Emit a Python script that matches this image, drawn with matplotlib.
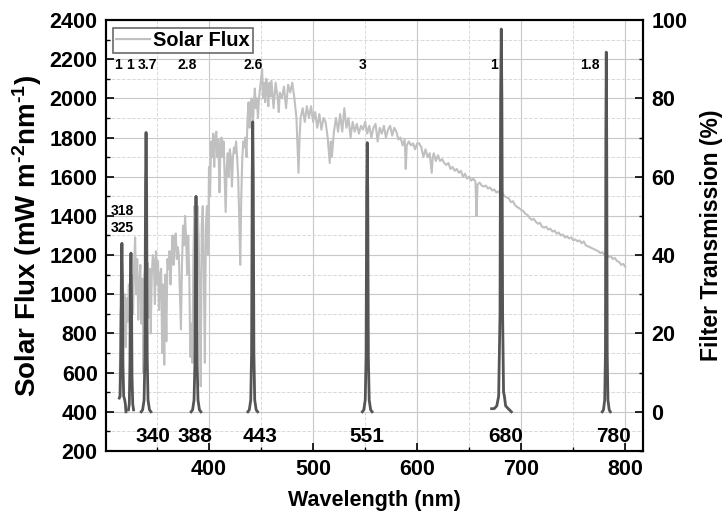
import matplotlib
matplotlib.use("Agg")
import matplotlib.pyplot as plt
from matplotlib.ticker import MultipleLocator

plt.rcParams['font.family'] = ['Liberation Sans', 'DejaVu Sans']
plt.rcParams['font.weight'] = 'bold'
plt.rcParams['mathtext.fontset'] = 'custom'
plt.rcParams['mathtext.rm'] = 'Liberation Sans:bold'
plt.rcParams['mathtext.bf'] = 'Liberation Sans:bold'
plt.rcParams['mathtext.default'] = 'bf'

# solar flux (mW m-2 nm-1)
flux_wl = [314, 315, 316, 317, 318, 319, 320, 321, 322, 323, 324, 325, 326, 327, 328, 329,
           330, 331, 332, 333, 334, 335, 336, 337, 338, 339, 340, 341, 342, 343, 344, 345,
           346, 347, 348, 349, 350, 351, 352, 353, 354, 355, 356, 357, 358, 359, 360, 361,
           362, 363, 364, 365, 366, 367, 368, 369, 370, 371, 372, 373, 374, 375, 376, 377,
           378, 379, 380, 381, 382, 383, 384, 385, 386, 387, 388, 389, 390, 391, 392, 393,
           394, 395, 396, 397, 398, 399, 400, 401, 402, 403, 404, 405, 406, 407, 408, 409,
           410, 411, 412, 413, 414, 415, 416, 417, 418, 419, 420, 421, 422, 423, 424, 425,
           426, 427, 428, 429, 430, 431, 432, 433, 434, 435, 436, 437, 438, 439, 440, 441,
           442, 443, 444, 445, 446, 447, 448, 449, 450, 451, 452, 453, 454, 455, 456, 457,
           458, 459, 460, 462, 464, 466, 467, 468, 470, 472, 474, 476, 478, 480, 482, 484,
           486, 487, 488, 490, 492, 494, 496, 498, 500, 502, 504, 506, 508, 510, 512, 514,
           516, 517, 518, 520, 522, 524, 526, 528, 530, 532, 534, 536, 538, 540, 542, 544,
           546, 548, 550, 552, 554, 556, 558, 560, 562, 564, 566, 568, 570, 572, 574, 576,
           578, 580, 582, 584, 586, 588, 589, 590, 592, 594, 596, 598, 600, 602, 604, 606,
           608, 610, 612, 614, 615, 616, 618, 620, 622, 624, 626, 628, 630, 632, 634, 636,
           638, 640, 642, 644, 646, 648, 650, 652, 654, 656, 657, 658, 660, 662, 664, 666,
           668, 670, 672, 674, 676, 678, 680, 682, 684, 686, 688, 690, 692, 694, 696, 698,
           700, 702, 704, 706, 708, 710, 712, 714, 716, 718, 720, 722, 724, 726, 728, 730,
           732, 734, 736, 738, 740, 742, 744, 746, 748, 750, 752, 754, 756, 758, 760, 762,
           764, 766, 768, 770, 772, 774, 776, 778, 780, 782, 784, 786, 788, 790, 792, 794,
           796, 798, 800]
flux_val = [480, 900, 980, 560, 950, 1000, 730, 980, 860, 1050, 830, 950, 1100, 900, 1150, 1290,
            1000, 1180, 870, 1050, 1150, 850, 1080, 600, 1100, 1150, 1030, 1160, 880, 1130, 800, 1100,
            1200, 1170, 950, 1220, 1050, 1170, 920, 1100, 1130, 700, 1050, 640, 1100, 760, 1180, 1130,
            1220, 1050, 1200, 1300, 1150, 1280, 1310, 1180, 1240, 1200, 1000, 820, 1150, 1350, 1250, 1400,
            1280, 1100, 1300, 1100, 680, 850, 650, 1200, 1450, 1380, 1200, 1450, 1300, 1000, 530, 1350,
            1450, 1100, 650, 1350, 1450, 1200, 1650, 1500, 1780, 1700, 1820, 1650, 1800, 1830, 1700, 1790,
            1520, 1750, 1800, 1700, 1780, 1600, 1420, 1650, 1720, 1600, 1740, 1700, 1550, 1700, 1750, 1720,
            1780, 1700, 1600, 1400, 1150, 1500, 1700, 1780, 1750, 1800, 1700, 1900, 1980, 1850, 1950, 2000,
            1850, 1960, 2050, 1950, 2000, 1900, 2000, 2050, 2100, 2150, 2000, 2080, 1980, 2100, 2050, 1960,
            2080, 2010, 2090, 1950, 2080, 2000, 1930, 2030, 2000, 2060, 1950, 2070, 2030, 2080, 2000, 1900,
            1620, 1800, 1900, 1950, 1880, 1960, 1900, 1960, 1880, 1930, 1850, 1920, 1840, 1900, 1880, 1800,
            1670, 1780, 1700, 1830, 1900, 1830, 1920, 1830, 1950, 1850, 1900, 1800, 1880, 1830, 1870, 1820,
            1860, 1840, 1880, 1820, 1860, 1800, 1850, 1870, 1780, 1850, 1820, 1860, 1800, 1840, 1860, 1810,
            1850, 1830, 1790, 1800, 1760, 1790, 1640, 1760, 1780, 1760, 1770, 1740, 1770, 1770, 1750, 1700,
            1740, 1700, 1720, 1620, 1700, 1720, 1680, 1710, 1680, 1690, 1670, 1660, 1670, 1640, 1650, 1630,
            1640, 1620, 1630, 1600, 1615, 1590, 1600, 1580, 1590, 1575, 1400, 1560, 1570, 1555, 1550, 1555,
            1540, 1545, 1530, 1535, 1520, 1525, 1510, 1515, 1500, 1495, 1490, 1470, 1475, 1455, 1445, 1440,
            1430, 1425, 1410, 1405, 1390, 1380, 1385, 1370, 1360, 1365, 1345, 1340, 1345, 1330, 1335, 1320,
            1325, 1310, 1315, 1300, 1305, 1290, 1295, 1285, 1290, 1275, 1280, 1270, 1275, 1260, 1270, 1250,
            1245, 1240, 1235, 1230, 1225, 1220, 1210, 1215, 1200, 1205, 1190, 1195, 1180, 1185, 1170, 1165,
            1150, 1155, 1140]

# filter transmission (%) curves
f318_wl = [313.8, 314.6, 315.3, 315.8, 316.3, 316.8, 317.3, 318.0, 319.0, 319.6, 320.2]
f318_t = [3.5, 4, 16, 36, 43, 34, 12, 4, 3, 2, 0]
f325_wl = [322.6, 323.4, 324.0, 324.5, 325.0, 325.5, 326.0, 326.7, 327.5]
f325_t = [0.5, 2, 12, 33, 40.5, 30, 9, 2, 0.5]
f340_wl = [334.8, 336.2, 337.6, 338.4, 339.0, 339.5, 340.0, 340.6, 341.4, 342.8, 344.2]
f340_t = [0, 0.5, 3, 14, 58, 71.3, 58, 14, 3, 0.5, 0]
f388_wl = [382.8, 384.2, 385.6, 386.4, 387.0, 387.5, 388.0, 388.6, 389.4, 390.8, 392.2]
f388_t = [0, 0.5, 3, 12, 45, 55, 45, 12, 3, 0.5, 0]
f443_wl = [437.3, 438.7, 440.1, 440.9, 441.5, 442.0, 442.5, 443.1, 443.9, 445.3, 446.7]
f443_t = [0, 0.5, 3, 15, 60, 74, 60, 15, 3, 0.5, 0]
f551_wl = [547.3, 548.7, 550.1, 550.9, 551.5, 552.0, 552.5, 553.1, 553.9, 555.3, 556.7]
f551_t = [0, 0.5, 3, 14, 56, 68.7, 56, 14, 3, 0.5, 0]
f680_wl = [671.5, 674.0, 676.5, 678.3, 679.6, 680.2, 680.8, 681.4, 682.1, 683.0, 683.8, 685.0, 687.5, 690.5]
f680_t = [0.8, 0.8, 1.5, 4, 25, 80, 97.7, 80, 25, 5, 4, 1.5, 0.8, 0]
f780_wl = [777.8, 779.0, 780.2, 780.9, 781.3, 781.7, 782.1, 782.6, 783.3, 784.5, 785.6]
f780_t = [0, 0.5, 3, 15, 70, 91.8, 70, 15, 3, 0.5, 0]
filters = [(f318_wl, f318_t), (f325_wl, f325_t), (f340_wl, f340_t), (f388_wl, f388_t),
           (f443_wl, f443_t), (f551_wl, f551_t), (f680_wl, f680_t), (f780_wl, f780_t)]

# annotations
top_txt = ["1", "1", "3.7", "2.8", "2.6", "3", "1", "1.8"]
top_x = [312.5, 324, 340.4, 378.8, 442.3, 548, 674, 766]
bot_txt = ["340", "388", "443", "551", "680", "780"]
bot_x = [346, 386.5, 449, 552, 684.6, 788.5]

fig = plt.figure(figsize=(7.22, 5.13), dpi=100)
ax = fig.add_axes([0.1468, 0.1209, 0.7438, 0.8401])
ax2 = ax.twinx()

ax.plot(flux_wl, flux_val, color='#c0c0c0', lw=1.5, label='Solar Flux', zorder=3)
for wl, t in filters:
    ax2.plot(wl, t, color='#555555', lw=2.0)

ax.set_xlim(301, 817)
ax.set_ylim(200, 2400)
ax2.set_ylim(-10, 100)

ax.xaxis.set_major_locator(MultipleLocator(100))
ax.xaxis.set_minor_locator(MultipleLocator(50))
ax.yaxis.set_major_locator(MultipleLocator(200))
ax.yaxis.set_minor_locator(MultipleLocator(100))
ax2.yaxis.set_major_locator(MultipleLocator(20))
ax2.yaxis.set_minor_locator(MultipleLocator(10))

ax.grid(which='major', color='#c8c8c8', lw=0.8, ls='-')
ax.grid(which='minor', color='#d9d9d9', lw=0.7, ls='--')
ax.set_axisbelow(True)

for a in (ax, ax2):
    a.tick_params(which='major', direction='in', length=6, width=1.2, labelsize=15.5, pad=6)
    a.tick_params(which='minor', direction='in', length=3, width=1.0)
    for s in a.spines.values():
        s.set_linewidth(1.5)
ax.tick_params(axis='y', right=False, which='both')
ax2.tick_params(axis='y', left=False, which='both')
for lab in ax.get_xticklabels() + ax.get_yticklabels() + ax2.get_yticklabels():
    lab.set_fontweight('bold')

ax.set_xlabel('Wavelength (nm)', fontsize=15.5, fontweight='bold', labelpad=7)
ax.set_ylabel(r'Solar Flux (mW m$^{\text{-2}}$nm$^{\text{-1}}$)', fontsize=20, fontweight='bold', labelpad=4)
ax2.set_ylabel('Filter Transmission (%)', fontsize=16.5, fontweight='bold', labelpad=9)

for t, x in zip(top_txt, top_x):
    ax.text(x, 2170, t, ha='center', va='center', fontsize=10, fontweight='bold', zorder=5)
for t, x in zip(bot_txt, bot_x):
    ax.text(x, 272, t, ha='center', va='center', fontsize=15, fontweight='bold', zorder=5)
ax.text(317, 1425, '318', ha='center', va='center', fontsize=10, fontweight='bold')
ax.text(317, 1338, '325', ha='center', va='center', fontsize=10, fontweight='bold')

leg = ax.legend(loc='upper left', bbox_to_anchor=(0.013, 0.981), borderaxespad=0,
                fancybox=False, edgecolor='#444444', prop={'weight': 'bold', 'size': 14.4},
                handlelength=1.7, borderpad=0.15, handletextpad=0.15)
leg.get_frame().set_linewidth(1.2)

fig.savefig('out.png', dpi=100)
